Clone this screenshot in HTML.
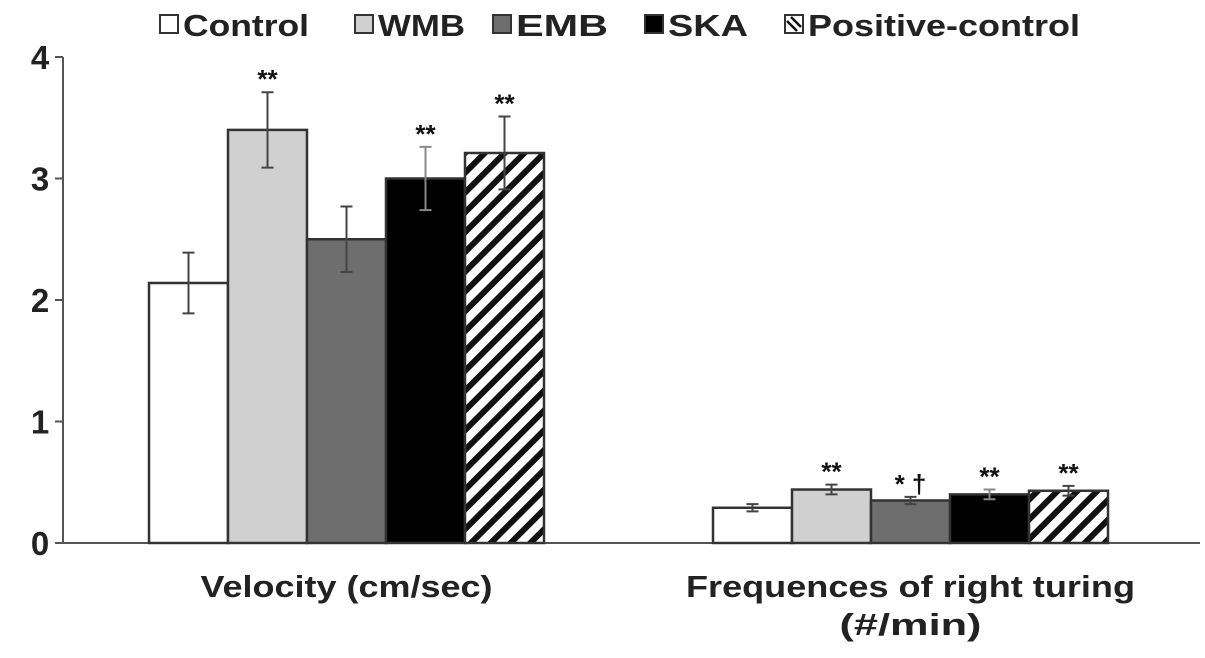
<!DOCTYPE html>
<html><head><meta charset="utf-8"><style>
body{margin:0;background:#fff;}
svg{display:block;font-family:"Liberation Sans",Arial,sans-serif;font-weight:bold;}
</style></head><body>
<svg id="chart" width="1205" height="658" viewBox="0 0 1205 658">
<defs>
<pattern id="hatch" patternUnits="userSpaceOnUse" width="14" height="14" patternTransform="rotate(45)">
<rect width="14" height="14" fill="#fff"/><rect x="0" y="0" width="6" height="14" fill="#111"/>
</pattern>
</defs>
<g id="legend"></g>
<g id="plot"></g>
</svg>
<script>
const categories=["Velocity (cm/sec)","Frequences of right turing|(#/min)"];
const seriesNames=["Control","WMB","EMB","SKA","Positive-control"];
const values=[[2.14,3.40,2.50,3.00,3.21],[0.29,0.44,0.35,0.40,0.43]];
const errors=[[0.25,0.31,0.27,0.26,0.30],[0.03,0.04,0.03,0.04,0.04]];
const marks=[["","**","","**","**"],["","**","* †","**","**"]];
const yTicks=[0,1,2,3,4];
const fills=["#fff","#d0d0d0","#6e6e6e","#000","url(#hatch)"];
const NS="http://www.w3.org/2000/svg";
const plot=document.getElementById('plot');
const legend=document.getElementById('legend');
const y0=543,yTop=57,yMax=4;
const y=v=>y0-(v/yMax)*(y0-yTop);
const groupStart=[149,713],barW=79;
const catLens=[[292],[449,142]];
const legLens=[126,87,92,80,272];
function mk(tag,attrs,parent){const e=document.createElementNS(NS,tag);for(const k in attrs)e.setAttribute(k,attrs[k]);parent.appendChild(e);return e;}
let ax=mk('line',{x1:63,y1:y(yMax),x2:63,y2:y0,stroke:'#555','stroke-width':2},plot);


let bx=mk('line',{x1:55,y1:y0,x2:1200,y2:y0,stroke:'#555','stroke-width':2},plot);


yTicks.forEach(t=>{
 let tk=mk('line',{x1:55,y1:y(t),x2:63,y2:y(t),stroke:'#555','stroke-width':2},plot);
 
 
 let tl=mk('text',{x:40,y:y(t)+12,'text-anchor':'middle','font-size':33,fill:'#222'},plot);
 tl.textContent=t;
 
 
});
categories.forEach((c,g)=>{
 values[g].forEach((v,i)=>{
  const x=groupStart[g]+i*barW;
  let r=mk('rect',{x:x,y:y(v),width:barW,height:y0-y(v),fill:fills[i],stroke:'#333','stroke-width':2.5},plot);
  
  
  const cx=x+barW/2,e=errors[g][i];
  const eb=mk('path',{d:`M${cx},${y(v+e)}V${y(v-e)}M${cx-6},${y(v+e)}H${cx+6}M${cx-6},${y(v-e)}H${cx+6}`,stroke:i==3?'#888':'#444','stroke-width':2,fill:'none'},plot);
  
  
  if(marks[g][i]){
   let m=mk('text',{x:cx,y:y(v+e)-4,'text-anchor':'middle','font-size':26,fill:'#111'},plot);
   m.textContent=marks[g][i];
   
   
  }
 });
 const lines=c.split('|');
 const cx=groupStart[g]+barW*2.5;
 lines.forEach((ln,k)=>{
  let t=mk('text',{x:cx,y:597+k*38,'text-anchor':'middle','font-size':31,fill:'#222',textLength:catLens[g][k],lengthAdjust:'spacingAndGlyphs'},plot);
  t.textContent=ln;
  
  
 });
});
const legX=[160,355,493,645,785];
seriesNames.forEach((n,i)=>{
 let r=mk('rect',{x:legX[i],y:15,width:18,height:18,fill:fills[i]==='url(#hatch)'?'#fff':fills[i],stroke:'#333','stroke-width':2},legend);
 
 
 if(i==4){let h=mk('path',{d:`M${legX[i]+2},${21}L${legX[i]+12},${31}M${legX[i]+6},${17}L${legX[i]+16},${27}`,stroke:'#111','stroke-width':2.5},legend);
  
  }
 let t=mk('text',{x:legX[i]+23,y:36,'font-size':31,fill:'#222',textLength:legLens[i],lengthAdjust:'spacingAndGlyphs'},legend);
 t.textContent=n;
 
 
});
</script>
</body></html>
